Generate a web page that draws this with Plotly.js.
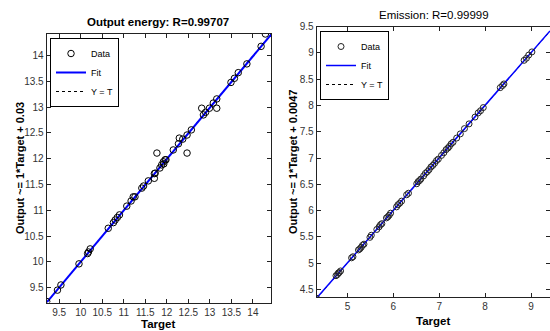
<!DOCTYPE html>
<html>
<head>
<meta charset="utf-8">
<script src="https://cdn.plot.ly/plotly-3.0.1.min.js"></script>
<style>html,body{margin:0;padding:0;background:#fff;overflow:hidden}</style>
</head>
<body>
<div id="chart" style="width:550px;height:331px"></div>
<script>
// ---- Output energy panel ----
const energyTarget = [9.21, 9.46, 9.54, 9.96, 10.16, 10.18, 10.22, 10.64, 10.76, 10.8, 10.85, 10.9, 11.07, 11.17, 11.22, 11.26, 11.42, 11.46, 11.57, 11.71, 11.71, 11.73, 11.77, 11.84, 11.88, 11.92, 11.93, 11.96, 11.98, 12.15, 12.27, 12.29, 12.37, 12.47, 12.47, 12.57, 12.81, 12.85, 12.9, 12.99, 13.08, 13.16, 13.16, 13.49, 13.57, 13.66, 13.86, 14.19, 14.29];
const energyOutput = [9.23, 9.45, 9.55, 9.96, 10.16, 10.19, 10.25, 10.65, 10.76, 10.81, 10.86, 10.91, 11.08, 11.18, 11.26, 11.26, 11.43, 11.47, 11.57, 11.71, 11.62, 11.72, 12.11, 11.82, 11.88, 11.94, 11.9, 11.98, 11.98, 12.17, 12.29, 12.4, 12.38, 12.46, 12.11, 12.56, 12.98, 12.85, 12.9, 12.98, 13.08, 13.16, 12.98, 13.48, 13.56, 13.67, 13.84, 14.18, 14.42];
const energyRange = [9.21, 14.42];
const energySlope = 0.997, energyIntercept = 0.03;
const energyTicks = [9.5, 10, 10.5, 11, 11.5, 12, 12.5, 13, 13.5, 14];

// ---- Emission panel ----
const emissionTarget = [4.33, 4.75, 4.78, 4.8, 4.82, 4.85, 5.09, 5.12, 5.24, 5.27, 5.3, 5.33, 5.36, 5.49, 5.52, 5.64, 5.69, 5.72, 5.75, 5.85, 5.88, 5.91, 5.94, 6.07, 6.1, 6.14, 6.18, 6.29, 6.33, 6.51, 6.54, 6.57, 6.6, 6.66, 6.7, 6.74, 6.78, 6.82, 6.86, 6.9, 6.94, 6.98, 7.05, 7.1, 7.15, 7.19, 7.22, 7.26, 7.3, 7.38, 7.46, 7.55, 7.65, 7.78, 7.85, 7.9, 7.96, 8.33, 8.38, 8.41, 8.85, 8.9, 8.95, 9.02];
const emissionOutput = [4.33, 4.76, 4.78, 4.81, 4.82, 4.85, 5.1, 5.12, 5.25, 5.27, 5.3, 5.34, 5.36, 5.49, 5.53, 5.64, 5.69, 5.73, 5.75, 5.86, 5.88, 5.91, 5.95, 6.07, 6.11, 6.14, 6.18, 6.3, 6.33, 6.51, 6.55, 6.57, 6.6, 6.66, 6.71, 6.74, 6.78, 6.83, 6.86, 6.9, 6.95, 6.98, 7.05, 7.1, 7.16, 7.19, 7.22, 7.27, 7.3, 7.38, 7.46, 7.56, 7.65, 7.78, 7.86, 7.9, 7.96, 8.34, 8.38, 8.41, 8.86, 8.9, 8.96, 9.02];
const emissionXRange = [4.33, 9.414];
const emissionYRange = [4.36, 9.5];
const emissionSlope = 1, emissionIntercept = 0.0047;
const emissionXTicks = [5, 6, 7, 8, 9];
const emissionYTicks = [4.5, 5, 5.5, 6, 6.5, 7, 7.5, 8, 8.5, 9, 9.5];

const titles = {
  left: 'Output energy: R=0.99707',
  right: 'Emission: R=0.99999',
  leftY: 'Output ~= 1*Target + 0.03',
  rightY: 'Output ~= 1*Target + 0.0047',
  x: 'Target'
};

const FONT = 'Liberation Sans Narrow, Liberation Sans, Arial, sans-serif';
const W = 550, H = 331;
const px = v => v / W, py = v => 1 - v / H;

function fitLine(r, a, b) { return {x: r.slice(), y: r.map(v => a * v + b)}; }

const eFit = fitLine(energyRange, energySlope, energyIntercept);
const mFit = fitLine(emissionXRange, emissionSlope, emissionIntercept);

const traces = [
  {x: energyRange, y: energyRange, mode: 'lines', name: 'Y = T', xaxis: 'x', yaxis: 'y', legend: 'legend', legendrank: 3,
   line: {color: '#000', width: 1, dash: 'dot'}},
  {x: eFit.x, y: eFit.y, mode: 'lines', name: 'Fit', xaxis: 'x', yaxis: 'y', legend: 'legend', legendrank: 2,
   line: {color: '#0000ff', width: 2}},
  {x: energyTarget, y: energyOutput, mode: 'markers', name: 'Data', xaxis: 'x', yaxis: 'y', legend: 'legend', legendrank: 1,
   marker: {symbol: 'circle-open', size: 6.5, color: '#000', line: {width: 1}}},
  {x: emissionXRange, y: emissionXRange, mode: 'lines', name: 'Y = T', xaxis: 'x2', yaxis: 'y2', legend: 'legend2', legendrank: 3,
   line: {color: '#000', width: 1, dash: 'dot'}},
  {x: mFit.x, y: mFit.y, mode: 'lines', name: 'Fit', xaxis: 'x2', yaxis: 'y2', legend: 'legend2', legendrank: 2,
   line: {color: '#0000ff', width: 1.5}},
  {x: emissionTarget, y: emissionOutput, mode: 'markers', name: 'Data', xaxis: 'x2', yaxis: 'y2', legend: 'legend2', legendrank: 1,
   marker: {symbol: 'circle-open', size: 6, color: '#222', line: {width: 1}}}
];

const axBase = {
  showgrid: false, zeroline: false, showline: true, linecolor: '#222', linewidth: 1,
  mirror: 'allticks', ticks: 'inside', ticklen: 4, tickcolor: '#222',
  tickfont: {family: FONT, size: 10, color: '#333'}, fixedrange: true
};

const legBase = {
  bgcolor: '#fff', bordercolor: '#000', borderwidth: 1,
  font: {family: FONT, size: 9, color: '#000'}, xanchor: 'left', yanchor: 'top',
  tracegroupgap: 0, itemwidth: 30
};

const ann = (text, x, y, size, bold, rot) => ({
  text: bold ? '<b>' + text + '</b>' : text, x: px(x), y: py(y), xref: 'paper', yref: 'paper',
  showarrow: false, xanchor: 'center', yanchor: 'middle', textangle: rot || 0,
  font: {family: FONT, size: size, color: '#000'}
});

const layout = {
  width: W, height: H, margin: {l: 0, r: 0, t: 0, b: 0},
  paper_bgcolor: '#fff', plot_bgcolor: '#fff', showlegend: true,
  xaxis: Object.assign({}, axBase, {domain: [px(46.7), px(271)], range: energyRange, tickvals: energyTicks, anchor: 'y'}),
  yaxis: Object.assign({}, axBase, {domain: [py(302.5), py(34)], range: energyRange, tickvals: energyTicks, anchor: 'x'}),
  xaxis2: Object.assign({}, axBase, {domain: [px(316.7), 1], range: emissionXRange, tickvals: emissionXTicks, anchor: 'y2'}),
  yaxis2: Object.assign({}, axBase, {domain: [py(296.7), py(26.7)], range: emissionYRange, tickvals: emissionYTicks, anchor: 'x2'}),
  legend: Object.assign({}, legBase, {x: px(50), y: py(38)}),
  legend2: Object.assign({}, legBase, {x: px(320), y: py(31)}),
  annotations: [
    ann(titles.left, 158, 22, 11.5, true),
    ann(titles.right, 434, 15, 11.5, false),
    ann(titles.leftY, 20, 168, 11, true, -90),
    ann(titles.rightY, 293, 162, 11, true, -90),
    ann(titles.x, 158, 324, 11.5, true),
    ann(titles.x, 433, 321, 11.5, true)
  ]
};

Plotly.newPlot('chart', traces, layout, {displayModeBar: false, staticPlot: true});
</script>
</body>
</html>
